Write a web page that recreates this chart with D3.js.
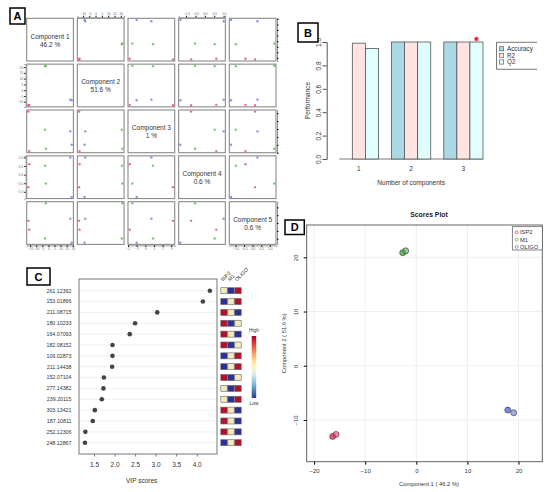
<!DOCTYPE html>
<html>
<head>
<meta charset="utf-8">
<script src="https://cdn.jsdelivr.net/npm/d3@7"></script>
<style>
  body { margin: 0; background: #fff; }
  svg { font-family: "Liberation Sans", Arial, sans-serif; }
</style>
</head>
<body>
<svg id="fig" width="550" height="492"></svg>
<script>
// ---- data ----
const groups = ["ISP2", "M1", "OLIGO"];
const groupColors = ["#e8476a", "#5cb85c", "#6a7fdb"];
const sampleGroup = ["ISP2", "ISP2", "M1", "M1", "OLIGO", "OLIGO"];
const comp1 = [-16.36, -15.7, -2.66, -2.07, 17.9, 19.06];
const comp2 = [-13.03, -12.66, 20.85, 21.2, -8.17, -8.67];
const comp3 = [3.2, -1.8, 0.9, -1.5, 0.7, -1.0];
const comp4 = [-0.73, 0.61, 0.52, -0.52, 1.0, -1.3];
const comp5 = [0.14, -0.42, -0.98, 1.26, 0.28, -1.26];
const compNames = ["Component 1", "Component 2", "Component 3", "Component 4", "Component 5"];
const compVar = ["46.2 %", "51.6 %", "1 %", "0.6 %", "0.6 %"];

const nComp = ["1", "2", "3"];
const perfSeries = ["Accuracy", "R2", "Q2"];
const perfColors = ["#add8e6", "#ffe4e1", "#e0ffff"];
const accuracy = [0, 1, 1];
const r2 = [0.99, 1, 1];
const q2 = [0.945, 1, 1];
const perfTicks = [0, 0.2, 0.4, 0.6, 0.8, 1.0];

const vipFeatures = ["261.12392", "153.01866", "211.08715", "180.10233", "164.07093",
  "182.08152", "109.02873", "211.14438", "152.07104", "277.14382", "239.20115",
  "303.13421", "187.10811", "252.12306", "248.12867"];
const vipScores = [4.32, 4.15, 3.04, 2.50, 2.37, 1.95, 1.95, 1.94, 1.74, 1.73, 1.69, 1.52, 1.47, 1.29, 1.28];
const vipTicks = [1.5, 2.0, 2.5, 3.0, 3.5, 4.0];
// relative level per group: 1 high, 0 mid, -1 low
const heatISP2 = [0, -1, 1, 1, 1, 1, -1, -1, 1, 0, 0, 1, 1, 1, -1];
const heatM1 = [-1, 0, 0, -1, 0, -1, 0, 0, -1, -1, -1, 0, 0, 0, 0];
const heatOLIGO = [1, 1, -1, 0, -1, 0, 1, 1, 0, 1, 1, -1, -1, -1, 1];

const scoreXTicks = [-20, -10, 0, 10, 20];
const scoreYTicks = [-10, 0, 10, 20];

const svg = d3.select("#fig");
const colorOf = g => groupColors[groups.indexOf(g)];

const panelLabel = (x, y, w, h, t) => {
  svg.append("rect").attr("x", x).attr("y", y).attr("width", w).attr("height", h)
    .attr("fill", "#fff").attr("stroke", "#000").attr("stroke-width", 1.5);
  svg.append("text").attr("x", x + w / 2).attr("y", y + h / 2 + 4)
    .attr("text-anchor", "middle").attr("font-size", 11).attr("font-weight", "bold").text(t);
};

// ---- A: pairs plot ----
const comps = [comp1, comp2, comp3, comp4, comp5];
const cellW = 46.7, cellH = 42.7, stepX = 50.65, stepY = 45.85, ax0 = 26.7, ay0 = 18.3;
const gA = svg.append("g");
const pad = (ext) => { const d = (ext[1] - ext[0]) * 0.04; return [ext[0] - d, ext[1] + d]; };
const cScalesX = comps.map(c => d3.scaleLinear().domain(pad(d3.extent(c))).range([0, cellW]));
const cScalesY = comps.map(c => d3.scaleLinear().domain(pad(d3.extent(c))).range([cellH, 0]));

for (let i = 0; i < 5; i++) {
  for (let j = 0; j < 5; j++) {
    const cx = ax0 + j * stepX, cy = ay0 + i * stepY;
    const cell = gA.append("g").attr("transform", `translate(${cx},${cy})`);
    cell.append("rect").attr("width", cellW).attr("height", cellH)
      .attr("fill", "#fff").attr("stroke", "#8a8a8a").attr("stroke-width", 1.1);
    if (i === j) {
      cell.append("text").attr("x", cellW / 2).attr("y", cellH / 2 - 1)
        .attr("text-anchor", "middle").attr("font-size", 6.5).attr("fill", "#333").text(compNames[i]);
      cell.append("text").attr("x", cellW / 2).attr("y", cellH / 2 + 7)
        .attr("text-anchor", "middle").attr("font-size", 6.5).attr("fill", "#333").text(compVar[i]);
    } else {
      cell.selectAll("circle").data(sampleGroup).join("circle")
        .attr("cx", (d, k) => cScalesX[j](comps[j][k]))
        .attr("cy", (d, k) => cScalesY[i](comps[i][k]))
        .attr("r", 1.2)
        .attr("fill", d => colorOf(d)).attr("opacity", 0.8);
    }
    // R pairs axis placement
    const tickStyle = a => a.selectAll("text").attr("font-size", 3.2).attr("fill", "#666");
    if (i === 4 && j % 2 === 0) {
      const a = cell.append("g").attr("transform", `translate(0,${cellH + 1})`)
        .call(d3.axisBottom(cScalesX[j]).ticks(7).tickSize(1.5).tickPadding(1));
      tickStyle(a); a.select(".domain").attr("stroke", "#999");
    }
    if (i === 0 && j % 2 === 1) {
      const a = cell.append("g").attr("transform", "translate(0,-1)")
        .call(d3.axisTop(cScalesX[j]).ticks(7).tickSize(1.5).tickPadding(1));
      tickStyle(a); a.select(".domain").attr("stroke", "#999");
    }
    if (j === 0 && i % 2 === 1) {
      const a = cell.append("g").attr("transform", "translate(-1,0)")
        .call(d3.axisLeft(cScalesY[i]).ticks(7).tickSize(1.5).tickPadding(1));
      tickStyle(a); a.select(".domain").attr("stroke", "#999");
    }
    if (j === 4 && i % 2 === 0) {
      const a = cell.append("g").attr("transform", `translate(${cellW + 1},0)`)
        .call(d3.axisRight(cScalesY[i]).ticks(7).tickSize(1.5).tickPadding(1));
      a.selectAll("text").remove(); a.select(".domain").attr("stroke", "#999");
    }
  }
}
panelLabel(10, 8, 15, 16, "A");

// ---- B: performance bars ----
const bx = d3.scaleLinear().domain([0, 12]).range([326.2, 483]);
const by = d3.scaleLinear().domain([0, 1]).range([159, 42]);
const bw = bx(1) - bx(0);
const gB = svg.append("g");
const perfVals = [accuracy, r2, q2];
gB.append("line").attr("x1", bx(1)).attr("x2", bx(12)).attr("y1", by(0)).attr("y2", by(0))
  .attr("stroke", "#555").attr("stroke-width", 0.8);
nComp.forEach((c, gi) => {
  perfSeries.forEach((s, si) => {
    const v = perfVals[si][gi];
    const x0 = bx(1 + gi * 4 + si);
    gB.append("rect").attr("x", x0).attr("y", by(v)).attr("width", bw).attr("height", by(0) - by(v))
      .attr("fill", perfColors[si]).attr("stroke", "#555").attr("stroke-width", 0.8);
  });
  gB.append("text").attr("x", bx(1 + gi * 4 + 1.5)).attr("y", 171)
    .attr("text-anchor", "middle").attr("font-size", 6.5).attr("fill", "#333").text(c);
});
const yAx = gB.append("g").attr("transform", "translate(326.7,0)")
  .call(d3.axisLeft(by).tickValues(perfTicks).tickFormat(d3.format(".1f")).tickSize(4).tickPadding(2));
yAx.select(".domain").attr("stroke", "#555");
yAx.selectAll(".tick line").attr("stroke", "#555");
yAx.selectAll("text").attr("font-size", 6.5).attr("fill", "#333")
  .attr("text-anchor", "middle").attr("x", 0).attr("dy", 0).attr("y", 0)
  .attr("transform", "translate(-7,0) rotate(-90)")
  .attr("dominant-baseline", "middle");
gB.append("text").attr("transform", `translate(310,${(by(0) + by(1)) / 2}) rotate(-90)`)
  .attr("text-anchor", "middle").attr("font-size", 6.5).attr("fill", "#333").text("Performance");
gB.append("text").attr("x", bx(6.5)).attr("y", 185).attr("text-anchor", "middle")
  .attr("font-size", 6.5).attr("fill", "#333").text("Number of components");
gB.append("path").attr("d", d3.symbol(d3.symbolAsterisk, 14)())
  .attr("transform", `translate(${bx(1 + 2 * 4 + 2.5)},${by(1) - 3})`)
  .attr("stroke", "#e0202a").attr("stroke-width", 1.3).attr("fill", "none");
// legend
gB.append("path").attr("d", "M537,42.3 H496.5 V69.3 H537").attr("fill", "none").attr("stroke", "#555").attr("stroke-width", 0.8);
perfSeries.forEach((s, si) => {
  const ly = 49 + si * 6.6;
  gB.append("rect").attr("x", 499.5).attr("y", ly - 2.3).attr("width", 4.2).attr("height", 4.2)
    .attr("fill", perfColors[si]).attr("stroke", "#555").attr("stroke-width", 0.6);
  gB.append("text").attr("x", 507).attr("y", ly + 2).attr("font-size", 6.3).attr("fill", "#333").text(s);
});
panelLabel(298, 23, 20, 19, "B");

// ---- C: VIP scores ----
const gC = svg.append("g");
const vx = d3.scaleLinear().domain([1.5, 4.0]).range([94, 196.7]);
const vy = d3.scalePoint().domain(vipFeatures).range([290.7, 442.7]);
gC.append("rect").attr("x", 79).attr("y", 279).attr("width", 138).attr("height", 175)
  .attr("fill", "#fff").attr("stroke", "#777").attr("stroke-width", 1);
vipFeatures.forEach((f, k) => {
  gC.append("line").attr("x1", 80).attr("x2", 216).attr("y1", vy(f)).attr("y2", vy(f))
    .attr("stroke", "#ccc").attr("stroke-width", 0.6).attr("stroke-dasharray", "1,1");
  gC.append("text").attr("x", 71.5).attr("y", vy(f) + 1.8).attr("text-anchor", "end")
    .attr("font-size", 5.3).attr("fill", "#333").text(f);
});
gC.selectAll("circle.vip").data(vipScores).join("circle").attr("class", "vip")
  .attr("cx", d => vx(d)).attr("cy", (d, k) => vy(vipFeatures[k])).attr("r", 2.3).attr("fill", "#444");
const vAx = gC.append("g").attr("transform", "translate(0,454)")
  .call(d3.axisBottom(vx).tickValues(vipTicks).tickFormat(d3.format(".1f")).tickSize(2.5).tickPadding(6));
vAx.select(".domain").remove();
vAx.selectAll(".tick line").attr("stroke", "#777");
vAx.selectAll("text").attr("font-size", 6.5).attr("fill", "#333");
gC.append("text").attr("x", 141.7).attr("y", 483).attr("text-anchor", "middle")
  .attr("font-size", 6.5).attr("fill", "#333").text("VIP scores");
// heat columns
const heatCols = [heatISP2, heatM1, heatOLIGO];
const heatColor = d3.scaleLinear().domain([-1, 0, 1]).range(["#2b2f98", "#f3e9be", "#b2112b"]);
const hx = d3.scaleBand().domain(groups).range([220.5, 241.5]);
heatCols.forEach((col, gi) => {
  col.forEach((v, k) => {
    gC.append("rect").attr("x", hx(groups[gi]) + 0.3).attr("y", vy(vipFeatures[k]) - 3)
      .attr("width", hx.bandwidth() - 0.6).attr("height", 6)
      .attr("fill", heatColor(v)).attr("stroke", "#666").attr("stroke-width", 0.6);
  });
  gC.append("text").attr("transform", `translate(${hx(groups[gi]) + 2.5},${281.5}) rotate(-45)`)
    .attr("font-size", 5.2).attr("fill", "#333").text(groups[gi]);
});
const grad = svg.append("defs").append("linearGradient").attr("id", "hl")
  .attr("x1", 0).attr("x2", 0).attr("y1", 0).attr("y2", 1);
d3.range(0, 1.01, 0.1).forEach(t => {
  grad.append("stop").attr("offset", t).attr("stop-color", d3.interpolateRdYlBu(t));
});
gC.append("rect").attr("x", 251.7).attr("y", 336).attr("width", 4.5).attr("height", 62)
  .attr("fill", "url(#hl)");
gC.append("text").attr("x", 254).attr("y", 332).attr("text-anchor", "middle")
  .attr("font-size", 4.8).attr("fill", "#333").text("High");
gC.append("text").attr("x", 254).attr("y", 405).attr("text-anchor", "middle")
  .attr("font-size", 4.8).attr("fill", "#333").text("Low");
panelLabel(27, 268, 23, 17, "C");

// ---- D: scores plot ----
const gD = svg.append("g");
const sx = d3.scaleLinear().domain([-21.45, 24.66]).range([306.7, 542.3]);
const sy = d3.scaleLinear().domain([-17.7, 25.96]).range([461.7, 225]);
scoreXTicks.forEach(t => gD.append("line").attr("x1", sx(t)).attr("x2", sx(t)).attr("y1", 225).attr("y2", 461.7)
  .attr("stroke", "#e6e6e6").attr("stroke-width", 0.7));
scoreYTicks.forEach(t => gD.append("line").attr("y1", sy(t)).attr("y2", sy(t)).attr("x1", 306.7).attr("x2", 542.3)
  .attr("stroke", "#e6e6e6").attr("stroke-width", 0.7));
gD.append("rect").attr("x", 306.7).attr("y", 225).attr("width", 542.3 - 306.7).attr("height", 461.7 - 225)
  .attr("fill", "none").attr("stroke", "#555").attr("stroke-width", 0.9);
const dX = gD.append("g").attr("transform", "translate(0,461.7)")
  .call(d3.axisBottom(sx).tickValues(scoreXTicks).tickSize(3).tickPadding(4));
dX.select(".domain").remove();
dX.selectAll("text").attr("font-size", 6).attr("fill", "#333");
const dY = gD.append("g").attr("transform", "translate(306.7,0)")
  .call(d3.axisLeft(sy).tickValues(scoreYTicks).tickSize(3));
dY.select(".domain").remove();
dY.selectAll("text").attr("font-size", 6).attr("fill", "#333")
  .attr("text-anchor", "middle").attr("x", 0).attr("dy", 0)
  .attr("transform", "translate(-9,0) rotate(-90)");
gD.append("text").attr("x", 429).attr("y", 217).attr("text-anchor", "middle")
  .attr("font-size", 6.8).attr("font-weight", "bold").attr("fill", "#222").text("Scores Plot");
gD.append("text").attr("x", 429).attr("y", 486).attr("text-anchor", "middle")
  .attr("font-size", 5.8).attr("fill", "#333").text("Component 1 ( 46.2 %)");
gD.append("text").attr("transform", "translate(286,343.3) rotate(-90)").attr("text-anchor", "middle")
  .attr("font-size", 5.8).attr("fill", "#333").text("Component 2 ( 51.6 %)");
gD.selectAll("circle.sc").data(sampleGroup).join("circle").attr("class", "sc")
  .attr("cx", (d, k) => sx(comp1[k])).attr("cy", (d, k) => sy(comp2[k])).attr("r", 3)
  .attr("fill", d => colorOf(d)).attr("fill-opacity", (d, k) => k % 2 ? 0.65 : 0.9)
  .attr("stroke", "#333").attr("stroke-width", 0.6);
gD.append("rect").attr("x", 512.3).attr("y", 226.7).attr("width", 30).attr("height", 23.3)
  .attr("fill", "#fff").attr("stroke", "#555").attr("stroke-width", 0.7);
groups.forEach((g, gi) => {
  const ly = 232.3 + gi * 7.3;
  gD.append("circle").attr("cx", 516.7).attr("cy", ly).attr("r", 1.5)
    .attr("fill", "none").attr("stroke", groupColors[gi]).attr("stroke-width", 0.8);
  gD.append("text").attr("x", 520).attr("y", ly + 2).attr("font-size", 5.8).attr("fill", "#333").text(g);
});
panelLabel(285, 220, 19.3, 14.5, "D");
</script>
</body>
</html>
